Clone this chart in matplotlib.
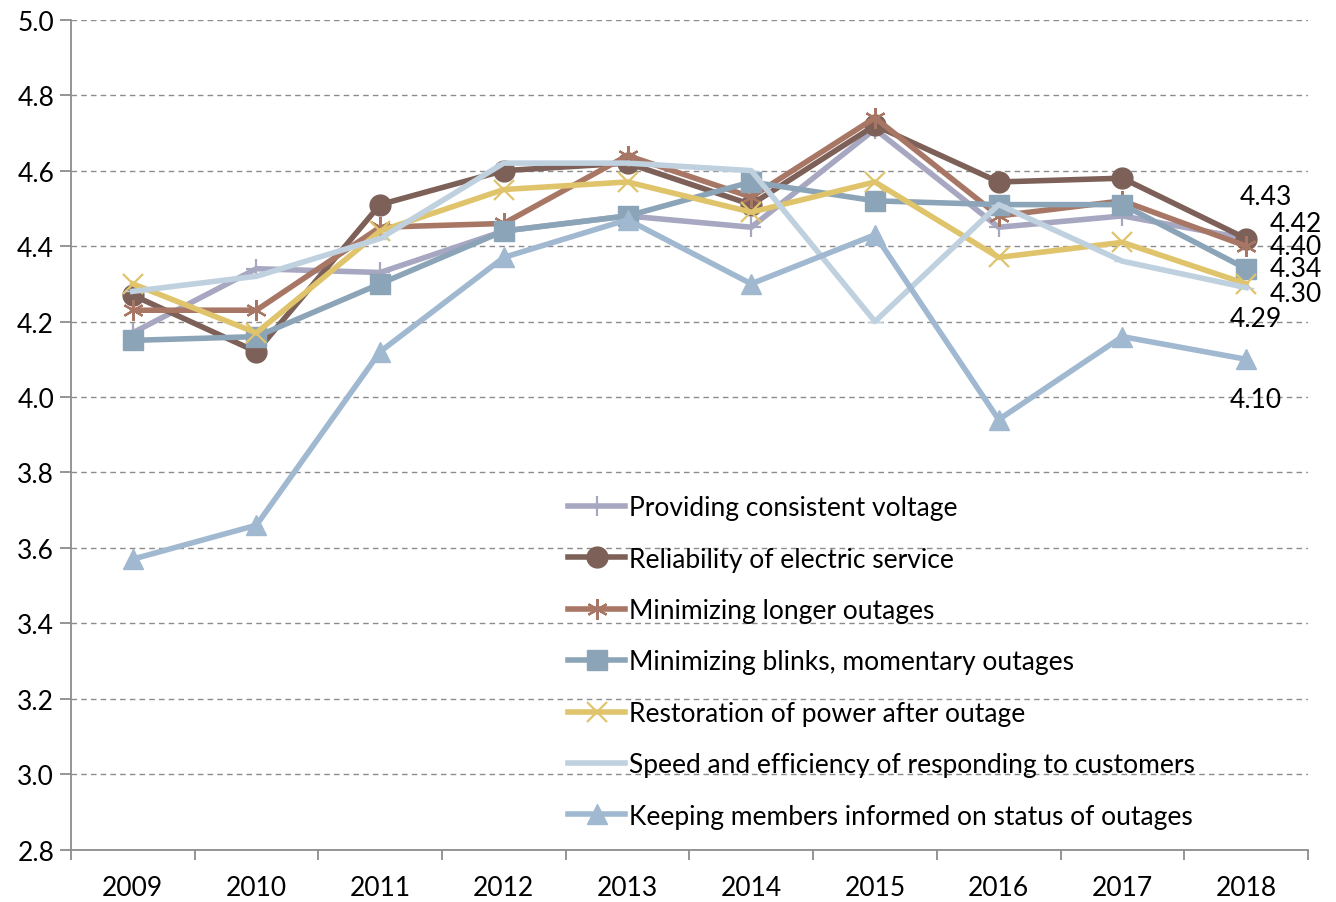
import numpy as np
import matplotlib.pyplot as plt

years = ['2009', '2010', '2011', '2012', '2013', '2014', '2015', '2016', '2017', '2018']

voltage = [4.17, 4.34, 4.33, 4.44, 4.48, 4.45, 4.71, 4.45, 4.48, 4.42]
reliability = [4.27, 4.12, 4.51, 4.60, 4.62, 4.51, 4.72, 4.57, 4.58, 4.42]
longer = [4.23, 4.23, 4.45, 4.46, 4.64, 4.53, 4.74, 4.48, 4.52, 4.40]
blinks = [4.15, 4.16, 4.30, 4.44, 4.48, 4.57, 4.52, 4.51, 4.51, 4.34]
restoration = [4.30, 4.17, 4.44, 4.55, 4.57, 4.49, 4.57, 4.37, 4.41, 4.30]
speed = [4.28, 4.32, 4.42, 4.62, 4.62, 4.60, 4.20, 4.51, 4.36, 4.29]
informed = [3.57, 3.66, 4.12, 4.37, 4.47, 4.30, 4.43, 3.94, 4.16, 4.10]

names = ['Providing consistent voltage',
         'Reliability of electric service',
         'Minimizing longer outages',
         'Minimizing blinks, momentary outages',
         'Restoration of power after outage',
         'Speed and efficiency of responding to customers',
         'Keeping members informed on status of outages']

end_labels = ['4.42', '4.43', '4.40', '4.34', '4.30', '4.29', '4.10']

plt.rcParams['font.family'] = ['Lato', 'DejaVu Sans']

fig, ax = plt.subplots(figsize=(13.36, 9.03), dpi=100)
fig.subplots_adjust(left=0.053, right=0.979, top=0.977, bottom=0.058)

x = np.arange(len(years))
series = [voltage, reliability, longer, blinks, restoration, speed, informed]
colors = ['#a7a7c2', '#7d6058', '#a87664', '#8ba4b7', '#e0c46c', '#bfd0df', '#a1b9d0']
markers = ['+', 'o', (6, 2, 0), 's', 'x', '_', '^']
msizes = [14, 15, 15, 14, 14, 12, 15]

for vals, name, c, m, ms in zip(series, names, colors, markers, msizes):
    ax.plot(x, vals, color=c, lw=4, marker=m, markersize=ms,
            markeredgewidth=1.6 if m in ['+', 'x', (6, 2, 0)] else 1,
            markeredgecolor=c, markerfacecolor=c, label=name, zorder=3)

# labels at the end of each line (offsets in points)
offsets = [(36, 11), (14, 30), (36, 0), (36, 0), (36, -7), (7, -22), (7, -29)]
order = [1, 0, 2, 3, 4, 5, 6]
for i in order:
    ax.annotate(end_labels[i], (x[-1], series[i][-1]), xytext=offsets[i],
                textcoords='offset points', ha='center', va='center',
                fontsize=19, color='black', zorder=5)

ax.set_ylim(2.8, 5.0)
ax.set_yticks(np.arange(2.8, 5.01, 0.2))
ax.set_yticklabels(['%.1f' % v for v in np.arange(2.8, 5.01, 0.2)])
ax.set_xlim(-0.5, len(years) - 0.5)
ax.set_xticks(x)
ax.set_xticklabels(years)
ax.set_xticks(np.arange(-0.5, len(years)), minor=True)
ax.tick_params(axis='x', which='major', length=0, labelsize=19, pad=18)
ax.tick_params(axis='x', which='minor', length=7, width=1.3, color='#8c8c8c', direction='out')
ax.tick_params(axis='y', length=8, width=1.3, color='#8c8c8c', labelsize=19, pad=4)

ax.yaxis.grid(True, linestyle=(0, (4, 3)), color='#8c8c8c', lw=1)
ax.set_axisbelow(True)
for s in ['top', 'right']:
    ax.spines[s].set_visible(False)
for s in ['left', 'bottom']:
    ax.spines[s].set_color('#8c8c8c')
    ax.spines[s].set_linewidth(1.3)

leg = ax.legend(loc='lower left', bbox_to_anchor=(0.385, 0.0), frameon=False,
                fontsize=19, handlelength=2.15, handletextpad=0.15,
                labelspacing=1.0, borderaxespad=0.4)

fig.savefig('out.png', dpi=100)
